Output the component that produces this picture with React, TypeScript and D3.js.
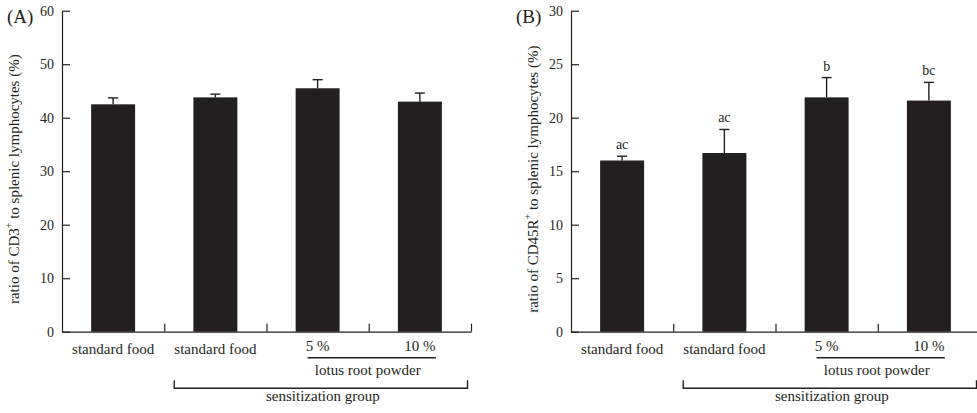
import React, { useRef, useEffect } from "react";
import * as d3 from "d3";

// data
const categories = ["standard food", "standard food", "5 %", "10 %"];
const cd3Values = [42.5, 43.8, 45.5, 43.0];
const cd3Errors = [1.2, 0.6, 1.6, 1.6];
const cd3Ticks = [0, 10, 20, 30, 40, 50, 60];
const cd45Values = [16.0, 16.7, 21.9, 21.6];
const cd45Errors = [0.4, 2.2, 1.85, 1.7];
const cd45Ticks = [0, 5, 10, 15, 20, 25, 30];
const cd45Letters = ["ac", "ac", "b", "bc"];
const groupLabel = "lotus root powder";
const bracketLabel = "sensitization group";

const ink = "#231f20";
const font = "'Liberation Serif', 'Times New Roman', serif";

type PanelOpts = {
  x0: number;
  tag: string;
  values: number[];
  errors: number[];
  ticks: number[];
  letters?: string[];
  marker: string;
  titleX: number;
};

const drawPanel = (svg: any, o: PanelOpts) => {
  const w = 409;
  const yTop = 10.7;
  const yBottom = 331.7;
  const g = svg.append("g");

  const x = d3
    .scaleBand<number>()
    .domain(d3.range(o.values.length))
    .range([o.x0, o.x0 + w])
    .paddingInner(0.57)
    .paddingOuter(0.285);
  const step = x.step();
  const y = d3
    .scaleLinear()
    .domain([0, d3.max(o.ticks) as number])
    .range([yBottom, yTop]);

  // bars
  g.selectAll(".bar")
    .data(o.values)
    .join("rect")
    .attr("x", (d: number, i: number) => x(i))
    .attr("y", (d: number) => y(d))
    .attr("width", x.bandwidth())
    .attr("height", (d: number) => yBottom - y(d))
    .attr("fill", ink);

  // error bars (upper only)
  const cx = (i: number) => (x(i) as number) + x.bandwidth() / 2;
  o.values.forEach((v, i) => {
    const top = y(v + o.errors[i]);
    g.append("line")
      .attr("x1", cx(i)).attr("x2", cx(i))
      .attr("y1", y(v)).attr("y2", top)
      .attr("stroke", ink).attr("stroke-width", 1.4);
    g.append("line")
      .attr("x1", cx(i) - 5).attr("x2", cx(i) + 5)
      .attr("y1", top).attr("y2", top)
      .attr("stroke", ink).attr("stroke-width", 1.4);
    if (o.letters) {
      g.append("text")
        .attr("x", cx(i))
        .attr("y", top - 7)
        .attr("text-anchor", "middle")
        .attr("font-size", 14)
        .attr("fill", ink)
        .text(o.letters[i]);
    }
  });

  // axes
  const yAxis = d3
    .axisLeft(y)
    .tickValues(o.ticks)
    .tickSizeInner(-8)
    .tickSizeOuter(0)
    .tickPadding(8);
  const ya = g.append("g").attr("transform", `translate(${o.x0},0)`).call(yAxis);

  const xb = d3
    .scaleLinear()
    .domain([0, o.values.length])
    .range([o.x0, o.x0 + w]);
  const xAxis = d3
    .axisBottom(xb)
    .tickValues([1, 2, 3, 4])
    .tickSizeInner(-8)
    .tickSizeOuter(0)
    .tickFormat(() => "");
  const xa = g.append("g").attr("transform", `translate(0,${yBottom})`).call(xAxis);

  [ya, xa].forEach((a) => {
    a.selectAll("path, line").attr("stroke", ink).attr("stroke-width", 1.2);
    a.selectAll("text")
      .attr("font-family", font)
      .attr("font-size", 14)
      .attr("fill", ink);
  });

  // category labels
  categories.forEach((c, i) => {
    g.append("text")
      .attr("x", cx(i))
      .attr("y", i < 2 ? 354 : 351)
      .attr("text-anchor", "middle")
      .attr("font-size", 15)
      .attr("fill", ink)
      .text(c);
  });

  // lotus root powder underline
  const uL = cx(2) - 10;
  const uR = cx(3) + 16;
  g.append("line")
    .attr("x1", uL).attr("x2", uR)
    .attr("y1", 357.7).attr("y2", 357.7)
    .attr("stroke", ink).attr("stroke-width", 1.4);
  g.append("text")
    .attr("x", (uL + uR) / 2 - 4)
    .attr("y", 375)
    .attr("text-anchor", "middle")
    .attr("font-size", 15)
    .attr("fill", ink)
    .text(groupLabel);

  // sensitization bracket
  const bL = o.x0 + step + 10;
  const bR = o.x0 + w - 3.5;
  const bY = 388.3;
  g.append("path")
    .attr("d", `M${bL},${bY - 8}V${bY}H${bR}V${bY - 8}`)
    .attr("fill", "none")
    .attr("stroke", ink)
    .attr("stroke-width", 1.4);
  g.append("text")
    .attr("x", (bL + bR) / 2 + 2)
    .attr("y", 401)
    .attr("text-anchor", "middle")
    .attr("font-size", 15)
    .attr("fill", ink)
    .text(bracketLabel);

  // panel tag
  g.append("text")
    .attr("x", o.x0 - 55)
    .attr("y", 23)
    .attr("font-size", 19)
    .attr("fill", ink)
    .text(o.tag);

  // y title
  const t = g
    .append("text")
    .attr("transform", `translate(${o.titleX},${(yTop + yBottom) / 2 + 8}) rotate(-90)`)
    .attr("text-anchor", "middle")
    .attr("dominant-baseline", "central")
    .attr("font-size", 15)
    .attr("fill", ink);
  t.append("tspan").text(`ratio of ${o.marker}`);
  t.append("tspan").attr("baseline-shift", "super").attr("font-size", 10).text("+");
  t.append("tspan").text(" to splenic lymphocytes (%)");
};

export default function App() {
  const svgRef = useRef<SVGSVGElement>(null);

  useEffect(() => {
    const svg = d3.select(svgRef.current);
    svg.selectAll("*").remove();
    svg.attr("font-family", font);

    drawPanel(svg, {
      x0: 62,
      tag: "(A)",
      values: cd3Values,
      errors: cd3Errors,
      ticks: cd3Ticks,
      marker: "CD3",
      titleX: 14,
    });
    drawPanel(svg, {
      x0: 571,
      tag: "(B)",
      values: cd45Values,
      errors: cd45Errors,
      ticks: cd45Ticks,
      letters: cd45Letters,
      marker: "CD45R",
      titleX: 533,
    });
  }, []);

  return (
    <svg
      ref={svgRef}
      width={977}
      height={413}
      style={{ position: "absolute", left: 0, top: 0, background: "#fff" }}
    />
  );
}
